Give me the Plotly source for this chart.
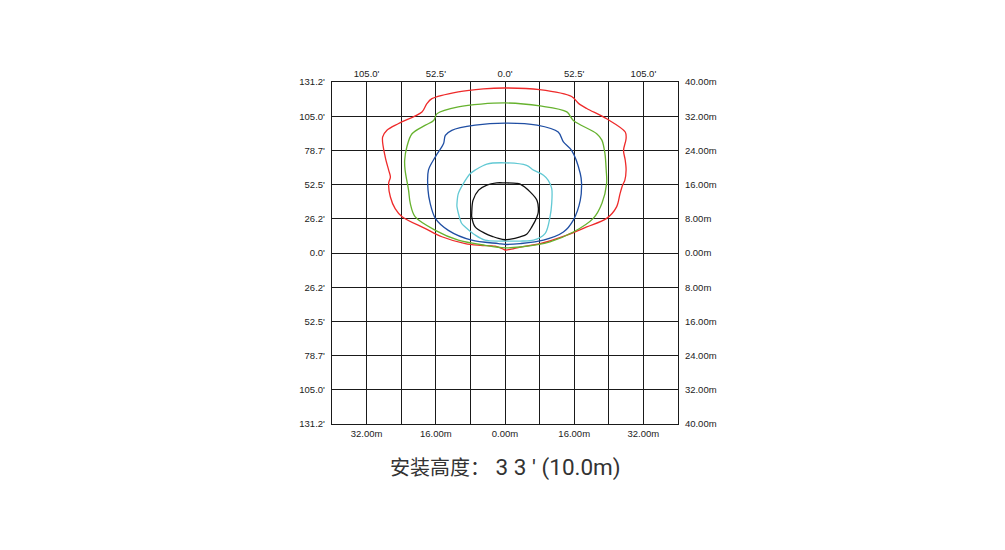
import plotly.graph_objects as go

# ---- data (metres) ----
red_x = [0, 8.0, 15.4, 17.0, 18.9, 23.5, 27.8, 28.0, 27.4, 27.8, 28.0, 27.7, 27.2, 26.6, 25.8, 23.5, 18.9, 14.3, 8.1, 3.5, 1.5, 0, -0.8, -2.3, -5.7, -9.2, -14.6, -18.4, -23.8, -25.4, -26.5, -26.9, -26.5, -26.9, -27.7, -28.3, -27.3, -24.6, -19.2, -18.1, -16.9, -10.8, -5.0, 0]
red_y = [38.6, 38.2, 36.6, 35.0, 33.8, 31.4, 28.3, 26.8, 24.0, 21.7, 19.4, 17.0, 15.9, 13.9, 10.8, 8.1, 6.1, 4.2, 2.2, 1.4, 0.9, 0.7, 1.1, 1.6, 1.8, 2.2, 3.8, 5.7, 8.5, 10.4, 13.1, 16.3, 17.8, 19.4, 22.5, 27.1, 28.7, 30.3, 33.0, 34.9, 36.1, 37.7, 38.4, 38.6]

green_x = [0, 8.1, 14.3, 15.8, 21.2, 22.4, 23.1, 23.4, 23.5, 22.4, 20.4, 15.8, 10.4, 3.5, 0, -4.6, -10.8, -16.1, -20.8, -21.9, -22.3, -23.1, -23.2, -22.7, -21.5, -18.4, -16.5, -15.7, -10.8, 0]
green_y = [35.1, 34.4, 33.0, 31.0, 27.9, 26.4, 23.3, 19.4, 16.3, 11.6, 8.1, 4.9, 2.6, 1.4, 1.2, 1.8, 3.0, 5.3, 8.5, 11.6, 14.7, 19.4, 21.7, 24.8, 27.9, 29.9, 31.0, 32.6, 34.2, 35.1]

blue_x = [0, 7.4, 12.3, 13.5, 15.4, 17.4, 17.7, 17.4, 15.8, 13.5, 8.9, 3.5, 0, -1.5, -7.7, -13.1, -16.1, -17.3, -17.8, -17.7, -16.1, -14.2, -13.8, -12.3, -6.9, 0]
blue_y = [30.4, 29.9, 28.3, 26.0, 24.0, 18.6, 16.3, 12.3, 7.7, 4.9, 3.0, 2.2, 2.0, 2.2, 3.0, 5.3, 8.1, 11.6, 14.7, 19.4, 22.5, 25.6, 27.5, 28.7, 29.9, 30.4]

cyan_x = [0, 5.0, 6.6, 8.9, 10.0, 10.8, 10.8, 10.4, 9.3, 6.6, 3.5, 0, -4.6, -6.9, -9.2, -10.0, -11.1, -11.1, -10.8, -9.6, -8.0, -6.9, -4.2, 0]
cyan_y = [21.1, 20.5, 19.4, 18.2, 17.0, 15.1, 11.6, 8.4, 4.6, 3.0, 2.8, 2.8, 3.0, 4.2, 6.1, 6.9, 10.8, 11.6, 13.9, 16.3, 18.6, 19.4, 20.8, 21.1]

black_x = [0, 2.7, 3.5, 5.8, 7.4, 7.7, 7.4, 6.2, 5.0, 3.5, 1.0, 0, -1.5, -2.7, -4.6, -6.9, -7.7, -7.7, -7.4, -6.1, -4.2, -1.9, 0]
black_y = [16.4, 16.3, 16.1, 14.3, 12.3, 9.6, 8.5, 6.1, 4.4, 3.8, 3.2, 3.1, 3.4, 3.8, 4.6, 6.1, 8.5, 9.2, 12.3, 14.7, 15.9, 16.4, 16.4]

grid_vals = [-40, -32, -24, -16, -8, 0, 8, 16, 24, 32, 40]
x_bottom_text = ["", "32.00m", "", "16.00m", "", "0.00m", "", "16.00m", "", "32.00m", ""]
x_top_text = ["", "105.0'", "", "52.5'", "", "0.0'", "", "52.5'", "", "105.0'", ""]
y_left_text = ["131.2'", "105.0'", "78.7'", "52.5'", "26.2'", "0.0'", "26.2'", "52.5'", "78.7'", "105.0'", "131.2'"]
y_right_text = ["40.00m", "32.00m", "24.00m", "16.00m", "8.00m", "0.00m", "8.00m", "16.00m", "24.00m", "32.00m", "40.00m"]

title_cjk = "安装高度："
title_num = " 3 3 ' (10.0m)"

curves = [
    (red_x, red_y, "#ee2a2a"),
    (green_x, green_y, "#66b22e"),
    (blue_x, blue_y, "#1f4ea3"),
    (cyan_x, cyan_y, "#62c9d4"),
    (black_x, black_y, "#111111"),
]

fig = go.Figure()
for cx, cy, col in curves:
    fig.add_trace(go.Scatter(x=cx, y=cy, mode="lines",
                             line=dict(color=col, width=1.3, shape="spline", smoothing=0.9),
                             hoverinfo="skip", showlegend=False))

# invisible trace on secondary axes so they render
fig.add_trace(go.Scatter(x=[0], y=[0], xaxis="x2", yaxis="y2", mode="markers",
                         marker=dict(opacity=0), showlegend=False, hoverinfo="skip"))

tick_font = dict(family="Liberation Sans, Arial", size=9.5, color="#222")
axis_common = dict(range=[-40, 40], tickvals=grid_vals, ticks="outside",
                   tickcolor="rgba(0,0,0,0)", tickfont=tick_font, zeroline=False,
                   fixedrange=True)

fig.update_layout(
    width=997, height=542,
    margin=dict(l=324, r=327, t=74, b=126),
    paper_bgcolor="white", plot_bgcolor="white",
    xaxis=dict(**axis_common, ticklen=0.5, ticktext=x_bottom_text, side="bottom",
               showgrid=True, gridcolor="#1a1a1a", gridwidth=1.4,
               showline=True, mirror=True, linecolor="#1a1a1a", linewidth=1.4),
    yaxis=dict(**axis_common, ticklen=4, ticktext=y_left_text, side="left",
               showgrid=True, gridcolor="#1a1a1a", gridwidth=1.4,
               showline=True, mirror=True, linecolor="#1a1a1a", linewidth=1.4),
    xaxis2=dict(**axis_common, ticklen=0.5, ticktext=x_top_text, side="top", overlaying="x",
                anchor="y", showgrid=False, showline=False),
    yaxis2=dict(**axis_common, ticklen=4, ticktext=y_right_text, side="right", overlaying="y",
                anchor="x", showgrid=False, showline=False),
    annotations=[dict(
        text=("<span style='font-size:20px'>" + title_cjk + "</span>"
              "<span style='font-family:Roboto;font-size:22.5px'>" + title_num + "</span>"),
        xref="paper", yref="paper", x=0.5, y=-0.125,
        xanchor="center", yanchor="middle", showarrow=False,
        font=dict(family="Noto Sans CJK SC", size=20, color="#333"))],
)

fig.write_html("out.html")
